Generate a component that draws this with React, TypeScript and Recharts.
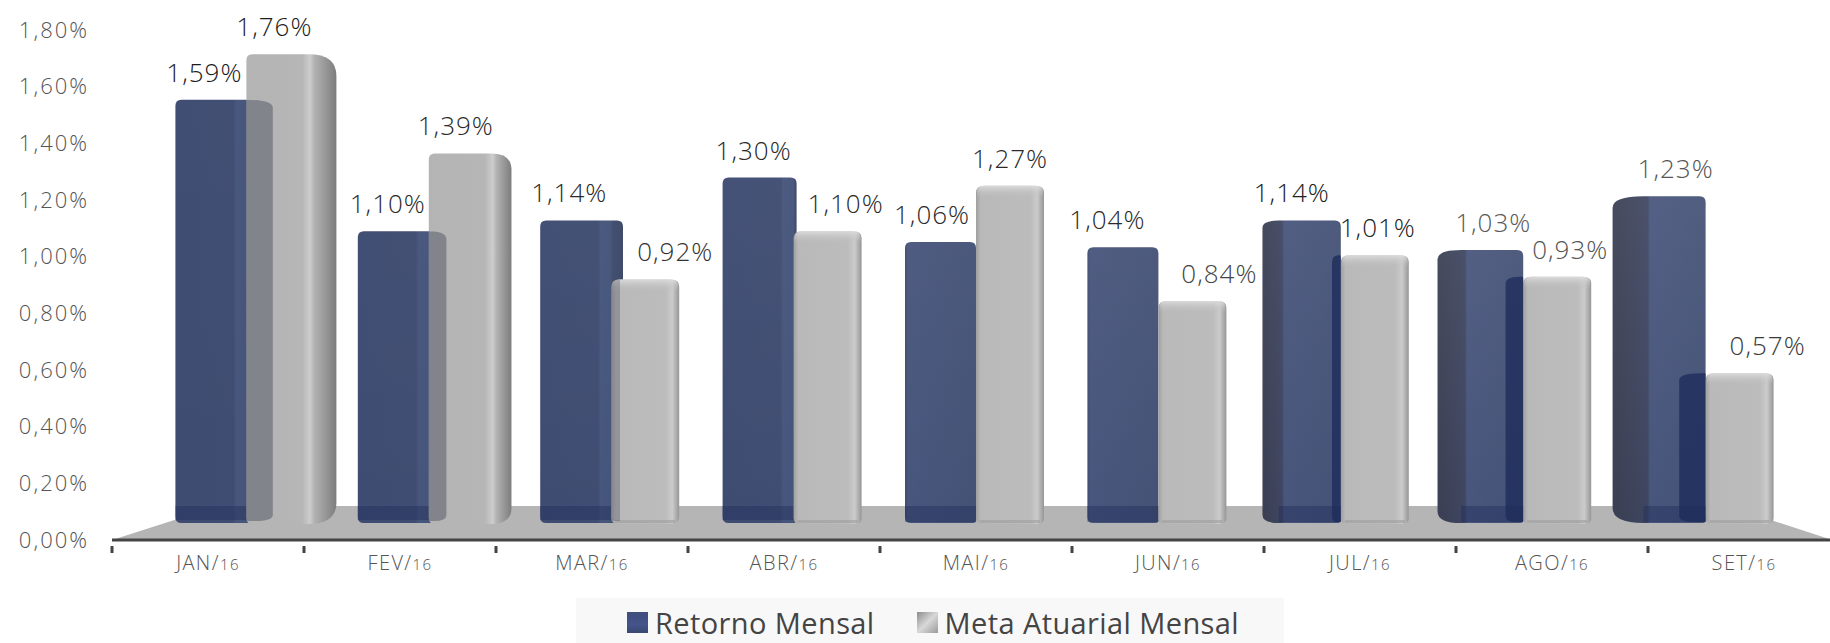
import { BarChart, Bar, XAxis, YAxis, Legend, LabelList, ReferenceArea } from "recharts";

const meses = ["JAN/16", "FEV/16", "MAR/16", "ABR/16", "MAI/16", "JUN/16", "JUL/16", "AGO/16", "SET/16"];
const retornoMensal = [1.59, 1.1, 1.14, 1.3, 1.06, 1.04, 1.14, 1.03, 1.23];
const metaAtuarial = [1.76, 1.39, 0.92, 1.1, 1.27, 0.84, 1.01, 0.93, 0.57];
const yTicks = [0, 0.2, 0.4, 0.6, 0.8, 1.0, 1.2, 1.4, 1.6, 1.8];

const data = meses.map((mes, i) => ({ mes, retorno: retornoMensal[i], meta: metaAtuarial[i] }));

// hand placed label shifts from the blue/gray seam, and their ink
const retornoLabelDx = [-42, -41, -42, -40, -44, -51, -49, -30, -30];
const metaLabelDx = [28, 27, 64, 52, 34, 61, 37, 47, 62];
const retornoLabelInk = ["#1c1c1c", "#2a2a2a", "#2a2a2a", "#2a2a2a", "#2a2a2a", "#2a2a2a", "#222", "#5a5a5a", "#555"];
const metaLabelInk = ["#1c1c1c", "#2a2a2a", "#333", "#2a2a2a", "#2a2a2a", "#444", "#222", "#555", "#3a3a3a"];

const FONT = "'Open Sans', sans-serif";
const BAND = 192;
const MIDDLE = 976; // vanishing point of the fake 3D
const FOOT = 3; // bars end a little above the scale's zero

const pct = (v: number) => v.toFixed(2).replace(".", ",") + "%";

function geom(center: number) {
  const seam = center + (MIDDLE - center) * 0.05;
  const dist = Math.abs(center - MIDDLE);
  const depth = (22 * Math.max(0, dist - 192)) / 576;
  return { seam, depth, isLeft: center < MIDDLE };
}

type Corner = [number, number];
function boxPath(x: number, top: number, w: number, base: number, tl: Corner, tr: Corner, br: Corner, bl: Corner) {
  return (
    `M${x} ${base - bl[1]} L${x} ${top + tl[1]} Q${x} ${top} ${x + tl[0]} ${top} ` +
    `L${x + w - tr[0]} ${top} Q${x + w} ${top} ${x + w} ${top + tr[1]} ` +
    `L${x + w} ${base - br[1]} Q${x + w} ${base} ${x + w - br[0]} ${base} ` +
    `L${x + bl[0]} ${base} Q${x} ${base} ${x} ${base - bl[1]} Z`
  );
}

function RetornoShape(props: any) {
  const { x, y, width, height, index } = props;
  const center = x + width;
  const { seam, depth, isLeft } = geom(center);
  const base = y + height - FOOT;
  const small: Corner = [6, 6];
  const gid = `ret-${index}`;
  const sheen = (
    <linearGradient id={gid + "-s"} x1="0" y1="0" x2="0" y2="1">
      <stop offset="0" stopColor="#fff" stopOpacity={0.01 + index * 0.007} />
      <stop offset="1" stopColor="#fff" stopOpacity={0} />
    </linearGradient>
  );
  if (isLeft) {
    const left = seam - 71;
    const total = 71 + depth * 1.2 + 3;
    const stripStart = 58 / total;
    const stripEnd = 71 / total;
    const path = boxPath(left, y, total, base, small, small, [3, 3], small);
    return (
      <g>
        <defs>
          <linearGradient id={gid} x1="0" y1="0" x2="1" y2="0">
            <stop offset="0" stopColor="#3f4c72" />
            <stop offset={stripStart} stopColor="#404d72" />
            <stop offset={stripStart + 0.03} stopColor="#47567d" />
            <stop offset={stripEnd} stopColor="#45547a" />
            <stop offset={stripEnd + 0.01} stopColor="#3f4c6e" />
            <stop offset="1" stopColor="#3b4766" />
          </linearGradient>
          {sheen}
        </defs>
        <path d={path} fill={`url(#${gid})`} />
        <path d={path} fill={`url(#${gid}-s)`} />
        <rect x={left} y={base - 17} width={71} height={14} fill="#1d2b58" opacity={0.4} />
      </g>
    );
  }
  const side = depth + (depth > 0 ? 9 : 0);
  const total = 71 + depth;
  const left = seam - total;
  const shoulder: Corner = depth > 0 ? [side, 5 + depth * 0.3] : small;
  const foot: Corner = depth > 0 ? [side, 5 + depth * 0.45] : small;
  const frac = side / total;
  const path = boxPath(left, y, total, base, shoulder, small, [3, 3], foot);
  return (
    <g>
      <defs>
        <linearGradient id={gid} x1="0" y1="0" x2="1" y2="0">
          <stop offset="0" stopColor={depth > 0 ? "#3a3f52" : "#3f4a6c"} />
          <stop offset={frac + 0.04} stopColor={depth > 0 ? "#3e4560" : "#48557c"} />
          <stop offset={frac + 0.07} stopColor="#48557c" />
          <stop offset="1" stopColor="#445276" />
        </linearGradient>
        {sheen}
      </defs>
      <path d={path} fill={`url(#${gid})`} />
      <path d={path} fill={`url(#${gid}-s)`} />
      <rect x={left + side} y={base - 17} width={total - side} height={16} fill="#1d2b58" opacity={0.4} />
    </g>
  );
}

function MetaShape(props: any) {
  const { x, y, height, index, payload } = props;
  const { seam, depth, isLeft } = geom(x);
  const base = y + height - FOOT + 1;
  const small: Corner = [6, 6];
  const gid = `meta-${index}`;
  // other series' top, same scale and same baseline
  const retornoTop = y + height - (height * payload.retorno) / payload.meta;
  const spill = depth * 1.2;

  if (isLeft && depth > 10) {
    const total = 68 + depth;
    const faceEnd = (total - depth - 12) / total;
    const hl = (total - depth) / total;
    const shoulder: Corner = [depth + 6, depth * 0.8 + 4];
    return (
      <g>
        <defs>
          <linearGradient id={gid} x1="0" y1="0" x2="1" y2="0">
            <stop offset="0" stopColor="#b4b4b4" />
            <stop offset={faceEnd} stopColor="#b6b6b6" />
            <stop offset={hl - 0.05} stopColor="#cdcdcd" />
            <stop offset={hl} stopColor="#b2b2b2" />
            <stop offset="1" stopColor="#7d7d7d" />
          </linearGradient>
        </defs>
        <path d={boxPath(seam, y, total, base, small, shoulder, shoulder, small)} fill={`url(#${gid})`} />
        <path
          d={boxPath(seam, retornoTop, spill, base - 3, [1, 1], [spill, 8], [spill * 0.7, 6], [1, 1])}
          fill="#4f5362"
          opacity={0.5}
        />
      </g>
    );
  }

  const w = 68;
  const chamfer: Corner = isLeft && depth > 0 ? [10, 8] : [7, 6];
  const bevel = boxPath(seam, y, w, base, [8, 7], [8, 7], chamfer, [7, 6]);
  return (
    <g>
      <defs>
        <linearGradient id={gid} x1="0" y1="0" x2="1" y2="0">
          <stop offset="0" stopColor="#9f9f9f" />
          <stop offset="0.07" stopColor="#b9b9b9" />
          <stop offset="0.8" stopColor="#bcbcbc" />
          <stop offset="0.9" stopColor="#cbcbcb" />
          <stop offset="1" stopColor="#969696" />
        </linearGradient>
        <linearGradient id={gid + "-v"} x1="0" y1="0" x2="0" y2="1">
          <stop offset="0" stopColor="#dedede" stopOpacity={0.9} />
          <stop offset="1" stopColor="#bdbdbd" stopOpacity={0} />
        </linearGradient>
      </defs>
      <path d={bevel} fill={`url(#${gid})`} />
      <path d={boxPath(seam + 1, y, w - 2, y + 12, [7, 7], [7, 7], [1, 1], [1, 1])} fill={`url(#${gid}-v)`} />
      <rect x={seam + 4} y={base - 4} width={w - 8} height={3} fill="#9c9c9c" opacity={0.6} />
      {isLeft && spill > 0 && (
        <rect x={seam} y={Math.max(y, retornoTop)} width={spill} height={base - 3 - Math.max(y, retornoTop)} fill="#4f5362" opacity={0.35} />
      )}
      {!isLeft && spill > 0 && (
        <path
          d={boxPath(seam - spill, y, spill, base - 2, [spill * 0.8, 7], [1, 1], [1, 1], [spill * 0.6, 6])}
          fill="#1c2c5a"
          opacity={0.78}
        />
      )}
    </g>
  );
}

function Floor(props: any) {
  const { x, y, width, height } = props;
  const right = x + width - 8;
  return <path d={`M${x} ${y + height} L${x + 106} ${y} L${right - 104} ${y} L${right} ${y + height} Z`} fill="#b5b5b5" />;
}

function MonthTick(props: any) {
  const { x, y, payload, index } = props;
  const [mes, ano] = String(payload.value).split("/");
  const axisY = y - 16;
  return (
    <g>
      <line x1={x - BAND / 2} x2={x - BAND / 2} y1={axisY} y2={axisY + 7} stroke="#444" strokeWidth={3} />
      {index === meses.length - 1 && (
        <line x1={x + BAND / 2} x2={x + BAND / 2} y1={axisY} y2={axisY + 7} stroke="#444" strokeWidth={3} />
      )}
      <text x={x} y={y + 8} textAnchor="middle" fontFamily={FONT} fontWeight={300} fill="#555" letterSpacing={1.4}>
        <tspan fontSize={20}>{mes}/</tspan>
        <tspan fontSize={15}>{ano}</tspan>
      </text>
    </g>
  );
}

function makeLabel(dxList: number[], inks: string[], seamOf: (x: number, w: number) => number) {
  return function BarLabel(props: any) {
    const { x, y, width, value, index } = props;
    const { seam } = geom(seamOf(x, width));
    return (
      <text
        x={seam + dxList[index]}
        y={y - 18}
        textAnchor="middle"
        fontFamily={FONT}
        fontWeight={300}
        fontSize={26}
        letterSpacing={1}
        fill={inks[index]}
      >
        {pct(value)}
      </text>
    );
  };
}

const swatches: Record<string, string> = {
  "Retorno Mensal": "linear-gradient(180deg, #3e4d7c, #45548a 60%, #3a4872)",
  "Meta Atuarial Mensal": "linear-gradient(135deg, #8d8d8d, #d8d8d8 50%, #9a9a9a)",
};

function LegendBox(props: any) {
  return (
    <div
      style={{
        width: 708,
        height: 45,
        background: "#f8f8f8",
        display: "flex",
        alignItems: "center",
        paddingLeft: 51,
        paddingTop: 4,
        boxSizing: "border-box",
        fontFamily: FONT,
        fontSize: 29,
        letterSpacing: 0.4,
        color: "#444",
        whiteSpace: "nowrap",
      }}
    >
      {props.payload.map((entry: any) => (
        <div key={entry.value} style={{ display: "flex", alignItems: "center", flexShrink: 0, marginRight: 42 }}>
          <span style={{ width: 21, height: 21, marginRight: 7, background: swatches[entry.value] }} />
          <span>{entry.value}</span>
        </div>
      ))}
    </div>
  );
}

export default function App() {
  return (
    <div style={{ position: "absolute", left: 0, top: 0, width: 1830, height: 643, overflow: "hidden", background: "#fff" }}>
      <BarChart
        width={1850}
        height={643}
        data={data}
        margin={{ top: 30, right: 10, bottom: 63, left: 12 }}
        barSize={70}
        barGap={0}
      >
        <XAxis
          dataKey="mes"
          height={40}
          tickLine={false}
          axisLine={{ stroke: "#444", strokeWidth: 3 }}
          tick={<MonthTick />}
          interval={0}
          tickMargin={16}
        />
        <YAxis
          yAxisId="left"
          width={100}
          domain={[0, 1.8]}
          allowDataOverflow
          ticks={yTicks}
          tickFormatter={pct}
          axisLine={false}
          tickLine={false}
          tickMargin={17}
          tick={{ fontFamily: FONT, fontWeight: 300, fontSize: 22, fill: "#555", letterSpacing: 2 }}
        />
        {/* bars stand on the floor, so they run on their own scale */}
        <YAxis yAxisId="bars" hide width={0} domain={[-0.0522, 1.8507]} allowDataOverflow />
        <ReferenceArea yAxisId="left" y1={0} y2={0.12} shape={<Floor />} />
        <Bar yAxisId="bars" dataKey="retorno" name="Retorno Mensal" fill="#3f4c72" shape={<RetornoShape />} isAnimationActive={false}>
          <LabelList dataKey="retorno" content={makeLabel(retornoLabelDx, retornoLabelInk, (x, w) => x + w)} />
        </Bar>
        <Bar yAxisId="bars" dataKey="meta" name="Meta Atuarial Mensal" fill="#b5b5b5" shape={<MetaShape />} isAnimationActive={false}>
          <LabelList dataKey="meta" content={makeLabel(metaLabelDx, metaLabelInk, (x) => x)} />
        </Bar>
        <Legend
          layout="horizontal"
          verticalAlign="middle"
          align="center"
          itemSorter={null}
          content={<LegendBox />}
          wrapperStyle={{ left: 576, top: 598, width: 708 }}
        />
      </BarChart>
    </div>
  );
}
